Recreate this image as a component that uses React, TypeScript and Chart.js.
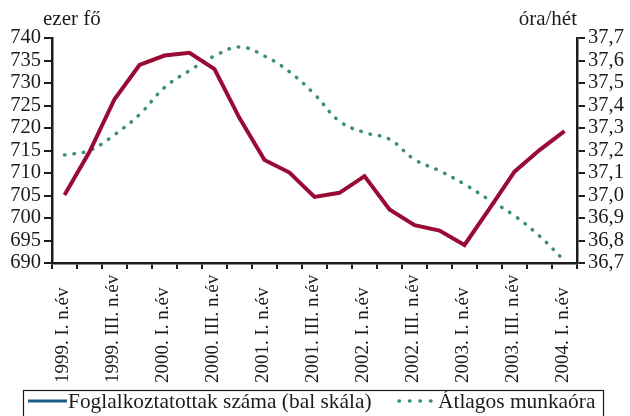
import React, { useEffect, useRef } from 'react';
import { Chart, registerables } from 'chart.js';

Chart.register(...registerables);

const categories = [
  '1999. I. n.év', '1999. II. n.év', '1999. III. n.év', '1999. IV. n.év',
  '2000. I. n.év', '2000. II. n.év', '2000. III. n.év', '2000. IV. n.év',
  '2001. I. n.év', '2001. II. n.év', '2001. III. n.év', '2001. IV. n.év',
  '2002. I. n.év', '2002. II. n.év', '2002. III. n.év', '2002. IV. n.év',
  '2003. I. n.év', '2003. II. n.év', '2003. III. n.év', '2003. IV. n.év',
  '2004. I. n.év',
];

const employed = [
  705.1, 714.7, 726.4, 734.0, 736.1, 736.7, 733.1, 722.2, 712.9, 710.1,
  704.7, 705.6, 709.3, 701.9, 698.4, 697.2, 694.0, 702.1, 710.3, 715.1, 719.3,
];

const hours = [
  37.18, 37.2, 37.27, 37.36, 37.48, 37.555, 37.62, 37.66, 37.62, 37.55,
  37.45, 37.33, 37.28, 37.25, 37.16, 37.11, 37.05, 36.98, 36.91, 36.82, 36.71,
];

const leftTicks = [690, 695, 700, 705, 710, 715, 720, 725, 730, 735, 740];
const rightTicks = [36.7, 36.8, 36.9, 37.0, 37.1, 37.2, 37.3, 37.4, 37.5, 37.6, 37.7];

const seriesNames = ['Foglalkoztatottak száma (bal skála)', 'Átlagos munkaóra'];
const axisTitles = ['ezer fő', 'óra/hét'];

const RED = '#990a35';
const GREEN = '#3d8f6f';
const BLUE = '#1a5e85';
const INK = '#1c1c1c';
const FONT = '"Liberation Serif", "Times New Roman", serif';

const decorPlugin = {
  id: 'decor',
  afterDraw(chart: any) {
    const ctx = chart.ctx as CanvasRenderingContext2D;
    const { left, right, top, bottom } = chart.chartArea;
    ctx.save();
    ctx.fillStyle = INK;
    ctx.font = `21px ${FONT}`;
    ctx.textBaseline = 'alphabetic';
    ctx.textAlign = 'left';
    ctx.fillText(axisTitles[0], left - 9, top - 13);
    ctx.textAlign = 'right';
    ctx.fillText(axisTitles[1], right, top - 13);

    // category labels, rotated, bottom-aligned
    const xs = chart.scales.x;
    ctx.font = `19px ${FONT}`;
    ctx.textAlign = 'left';
    ctx.textBaseline = 'middle';
    categories.forEach((lab, i) => {
      if (i % 2 !== 0) return;
      const px = xs.getPixelForValue(i);
      ctx.save();
      ctx.translate(px - 1, bottom + 120);
      ctx.rotate(-Math.PI / 2);
      ctx.fillText(lab, 0, 0);
      ctx.restore();
    });

    // legend box
    ctx.strokeStyle = INK;
    ctx.lineWidth = 1.2;
    ctx.strokeRect(23.5, 390.5, 580, 40);

    ctx.lineWidth = 3;
    ctx.strokeStyle = BLUE;
    ctx.setLineDash([]);
    ctx.beginPath();
    ctx.moveTo(28, 401);
    ctx.lineTo(67, 401);
    ctx.stroke();

    ctx.strokeStyle = GREEN;
    ctx.lineWidth = 3.5;
    ctx.lineCap = 'round';
    ctx.setLineDash([0.5, 10]);
    ctx.beginPath();
    ctx.moveTo(399, 401);
    ctx.lineTo(432, 401);
    ctx.stroke();
    ctx.setLineDash([]);

    ctx.fillStyle = INK;
    ctx.font = `21.4px ${FONT}`;
    ctx.textAlign = 'left';
    ctx.textBaseline = 'alphabetic';
    ctx.fillText(seriesNames[0], 68, 408);
    ctx.fillText(seriesNames[1], 438, 408);
    ctx.restore();
  },
};

export default function App() {
  const ref = useRef<HTMLCanvasElement>(null);

  useEffect(() => {
    if (!ref.current) return;
    const chart = new Chart(ref.current, {
      type: 'line',
      data: {
        labels: categories,
        datasets: [
          {
            label: seriesNames[0],
            data: employed,
            borderColor: RED,
            backgroundColor: RED,
            borderWidth: 4,
            pointRadius: 0,
            tension: 0,
            yAxisID: 'yL',
            borderJoinStyle: 'miter',
          },
          {
            label: seriesNames[1],
            data: hours,
            borderColor: GREEN,
            backgroundColor: GREEN,
            borderWidth: 3.5,
            borderDash: [0.5, 9],
            borderCapStyle: 'round',
            pointRadius: 0,
            tension: 0.4,
            yAxisID: 'yR',
          },
        ],
      },
      options: {
        animation: false,
        responsive: false,
        layout: { padding: { top: 38, left: 0, right: 0, bottom: 0 } },
        plugins: {
          legend: { display: false },
          tooltip: { enabled: false },
        },
        scales: {
          x: {
            offset: true,
            grid: {
              offset: true,
              display: true,
              drawOnChartArea: false,
              drawTicks: true,
              tickLength: 6,
              color: INK,
              lineWidth: 2,
            },
            border: { display: true, color: INK, width: 2.5 },
            ticks: { display: false },
            afterFit: (s: any) => { s.height = 153; },
          },
          yL: {
            position: 'left',
            min: 690,
            max: 740,
            afterBuildTicks: (s: any) => { s.ticks = leftTicks.map((v) => ({ value: v })); },
            grid: {
              display: true,
              drawOnChartArea: false,
              drawTicks: true,
              tickLength: 8,
              color: INK,
              lineWidth: 2,
            },
            border: { display: true, color: INK, width: 2.5 },
            ticks: {
              autoSkip: false,
              padding: 3,
              color: INK,
              font: { family: FONT, size: 20.5 },
              callback: (v: any) => String(v),
            },
            afterFit: (s: any) => { s.width = 52; },
          },
          yR: {
            position: 'right',
            min: 36.7,
            max: 37.7,
            afterBuildTicks: (s: any) => { s.ticks = rightTicks.map((v) => ({ value: v })); },
            grid: {
              display: true,
              drawOnChartArea: false,
              drawTicks: true,
              tickLength: 8,
              color: INK,
              lineWidth: 2,
            },
            border: { display: true, color: INK, width: 2.5 },
            ticks: {
              autoSkip: false,
              padding: 3,
              color: INK,
              font: { family: FONT, size: 20.5 },
              callback: (v: any) => Number(v).toFixed(1).replace('.', ','),
            },
            afterFit: (s: any) => { s.width = 53; },
          },
        },
      },
      plugins: [decorPlugin],
    });
    return () => chart.destroy();
  }, []);

  return (
    <div style={{ position: 'absolute', left: 0, top: 0, width: 630, height: 416, background: '#fff' }}>
      <canvas ref={ref} width={630} height={416} />
    </div>
  );
}
